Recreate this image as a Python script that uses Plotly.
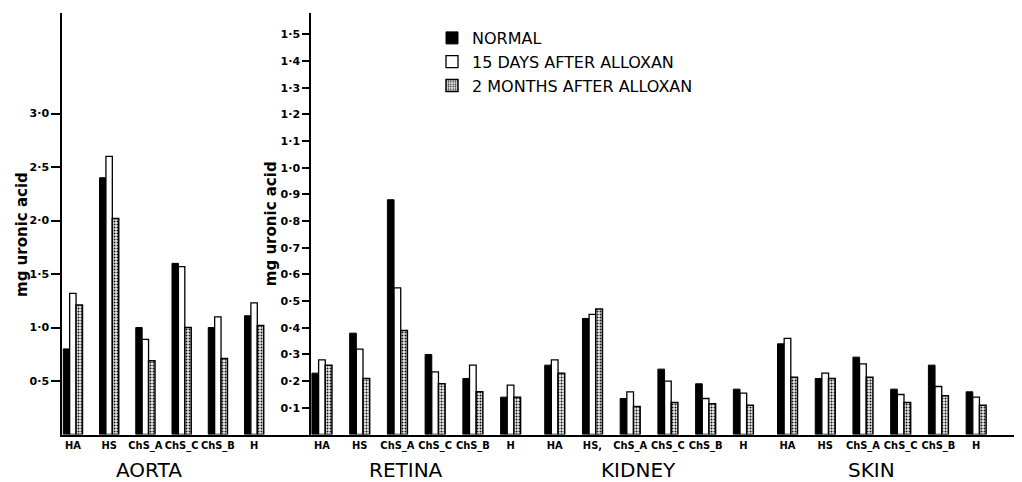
import plotly.graph_objects as go

# ---------------- data ----------------
groups = ["HA", "HS", "ChS_A", "ChS_C", "ChS_B", "H"]
organs = ["AORTA", "RETINA", "KIDNEY", "SKIN"]
series_names = ["NORMAL", "15 DAYS AFTER ALLOXAN", "2 MONTHS AFTER ALLOXAN"]

# Aorta (left scale)
normal_aorta = [0.80, 2.40, 1.00, 1.60, 1.00, 1.11]
days15_aorta = [1.32, 2.60, 0.89, 1.57, 1.10, 1.23]
months2_aorta = [1.21, 2.02, 0.69, 1.00, 0.71, 1.02]

# Retina, Kidney, Skin (right scale)
normal_retina = [0.23, 0.38, 0.88, 0.30, 0.21, 0.14]
days15_retina = [0.28, 0.32, 0.55, 0.235, 0.26, 0.185]
months2_retina = [0.26, 0.21, 0.39, 0.19, 0.16, 0.14]

normal_kidney = [0.26, 0.435, 0.135, 0.245, 0.19, 0.17]
days15_kidney = [0.28, 0.45, 0.16, 0.20, 0.135, 0.155]
months2_kidney = [0.23, 0.47, 0.105, 0.12, 0.115, 0.11]

normal_skin = [0.34, 0.21, 0.29, 0.17, 0.26, 0.16]
days15_skin = [0.36, 0.23, 0.265, 0.15, 0.18, 0.14]
months2_skin = [0.215, 0.21, 0.215, 0.12, 0.145, 0.11]

# tick labels as printed
labels_aorta = ["HA", "HS", "ChS_A", "ChS_C", "ChS_B", "H"]
labels_retina = ["HA", "HS", "ChS_A", "ChS_C", "ChS_B", "H"]
labels_kidney = ["HA", "HS,", "ChS_A", "ChS_C", "ChS_B", "H"]
labels_skin = ["HA", "HS", "ChS_A", "ChS_C", "ChS_B", "H"]

left_ticks = [0.5, 1.0, 1.5, 2.0, 2.5, 3.0]
right_ticks = [0.1, 0.2, 0.3, 0.4, 0.5, 0.6, 0.7, 0.8, 0.9, 1.0, 1.1, 1.2, 1.3, 1.4, 1.5]
y_title = "mg uronic acid"

# ---------------- layout helpers ----------------
ORGAN_STEP = 6.17  # spacing between organ blocks on the right axis (category units)
W, H = 1014, 474   # page adds an 8px body margin -> fills the 1022x482 window

right_sets = [
    (normal_retina, days15_retina, months2_retina, labels_retina),
    (normal_kidney, days15_kidney, months2_kidney, labels_kidney),
    (normal_skin, days15_skin, months2_skin, labels_skin),
]

styles = [
    dict(color="black", line=dict(color="black", width=1)),
    dict(color="white", line=dict(color="black", width=1.3)),
    dict(color="#e6e6e6", line=dict(color="black", width=1.5),
         pattern=dict(shape=".", fgcolor="#111111", bgcolor="#eeeeee", size=3, solidity=0.35)),
]

fig = go.Figure()

left_x = list(range(len(groups)))
for k, vals in enumerate([normal_aorta, days15_aorta, months2_aorta]):
    fig.add_trace(go.Bar(
        x=left_x, y=vals, name=series_names[k], marker=styles[k],
        xaxis="x", yaxis="y", legendgroup=series_names[k], showlegend=True,
        offsetgroup=str(k),
    ))

right_tickvals, right_ticktext = [], []
for o, (nv, dv, mv, labs) in enumerate(right_sets):
    xs = [o * ORGAN_STEP + i for i in range(len(groups))]
    right_tickvals += xs
    right_ticktext += labs
    for k, vals in enumerate([nv, dv, mv]):
        fig.add_trace(go.Bar(
            x=xs, y=vals, name=series_names[k], marker=styles[k],
            xaxis="x2", yaxis="y2", legendgroup=series_names[k], showlegend=False,
            offsetgroup=str(k),
        ))

def fmt(v):
    return f"{v:.1f}".replace(".", "·")

ydom = [47.5 / H, 469 / H]
axis_font = dict(family="DejaVu Sans", size=11, color="black", weight="bold")
xtick_font = dict(family="DejaVu Sans Condensed", size=11, color="black", weight="bold")
title_font = dict(family="DejaVu Sans", size=15, color="black", weight="bold")

fig.update_layout(
    width=W, height=H, template="none",
    paper_bgcolor="white", plot_bgcolor="rgba(0,0,0,0)",
    margin=dict(l=0, r=0, t=0, b=0),
    barmode="group", bargap=0.47, bargroupgap=0,
    showlegend=True,
    legend=dict(x=424 / W, y=1 - 13 / H, xanchor="left", yanchor="top",
                font=dict(family="DejaVu Sans", size=16, color="black"),
                bgcolor="rgba(0,0,0,0)", tracegroupgap=0, itemwidth=30),
    xaxis=dict(domain=[54 / W, 303 / W], range=[-0.30, 6.57], anchor="y",
               tickmode="array", tickvals=left_x, ticktext=labels_aorta, tickangle=0,
               showline=True, linecolor="black", linewidth=1.5, ticks="",
               showgrid=False, zeroline=False, tickfont=xtick_font, automargin=False),
    yaxis=dict(domain=ydom, range=[0, 3.94], anchor="x",
               tickmode="array", tickvals=left_ticks, ticktext=[fmt(v) for v in left_ticks],
               showline=True, linecolor="black", linewidth=1.5, ticks="outside",
               ticklen=9, tickwidth=1.5, tickcolor="black",
               showgrid=False, zeroline=False, tickfont=axis_font, automargin=False),
    xaxis2=dict(domain=[303 / W, 1010 / W], range=[-0.29, 18.45], anchor="y2",
                tickmode="array", tickvals=right_tickvals, ticktext=right_ticktext, tickangle=0,
                showline=True, linecolor="black", linewidth=1.5, ticks="",
                showgrid=False, zeroline=False, tickfont=xtick_font, automargin=False),
    yaxis2=dict(domain=ydom, range=[0, 1.58], anchor="x2",
                tickmode="array", tickvals=right_ticks, ticktext=[fmt(v) for v in right_ticks],
                showline=True, linecolor="black", linewidth=1.5, ticks="outside",
                ticklen=7, tickwidth=1.5, tickcolor="black",
                showgrid=False, zeroline=False, tickfont=axis_font, automargin=False,
                title=dict(text=y_title, standoff=0, font=title_font)),
)

# left y-axis title (placed precisely, as in the original)
fig.add_annotation(x=14 / W, y=247 / H, xref="paper", yref="paper", text=y_title,
                   textangle=-90, showarrow=False, font=title_font,
                   xanchor="center", yanchor="middle")

# organ labels under each block
organ_font = dict(family="DejaVu Sans", size=20, color="black")
fig.add_annotation(x=2.5 - 0.4, y=12 / H, xref="x", yref="paper", text=organs[0],
                   showarrow=False, font=organ_font, yanchor="middle")
for o in range(3):
    fig.add_annotation(x=o * ORGAN_STEP + 2.5 - 0.27, y=12 / H, xref="x2", yref="paper",
                       text=organs[o + 1], showarrow=False, font=organ_font, yanchor="middle")

fig.write_html("out.html")
